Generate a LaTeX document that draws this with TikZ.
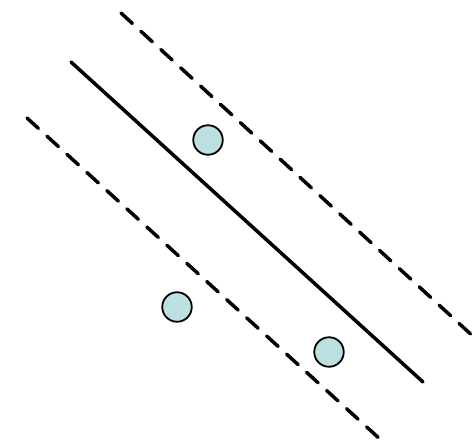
\documentclass[tikz,border=0pt]{standalone}
\begin{document}
\begin{tikzpicture}[x=1pt,y=-1pt,
  margin/.style={line width=3.5pt,line cap=round,dash pattern=on 15.5pt off 11.5pt},
  sep/.style={line width=3.5pt,line cap=round},
  pt/.style={circle,draw=black,line width=1.8pt,fill=ptfill,minimum size=29.5pt,inner sep=0pt}]
\definecolor{ptfill}{HTML}{BCDFE1}
\useasboundingbox (0,0) rectangle (475,442);
\coordinate (ta) at (121,13);
\coordinate (tb) at (476,339);
\coordinate (sa) at (71,62);
\coordinate (sb) at (423,382);
\coordinate (ba) at (27,118);
\coordinate (bb) at (381,440);
\draw[margin] (ta) -- (tb);
\draw[sep] (sa) -- (sb);
\draw[margin] (ba) -- (bb);
\node[pt] (p1) at (208,140) {};
\node[pt] (p2) at (177,307) {};
\node[pt] (p3) at (329,352) {};
\end{tikzpicture}
\end{document}
